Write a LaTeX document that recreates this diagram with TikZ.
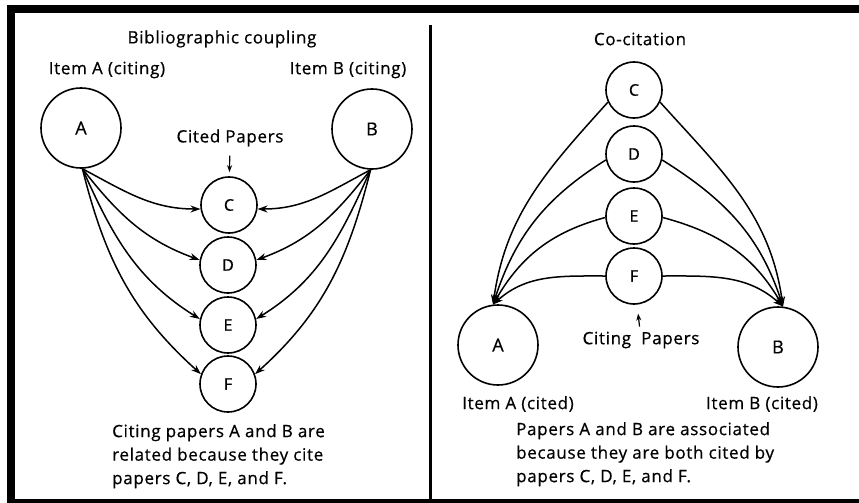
\documentclass[tikz,border=0pt]{standalone}
\usepackage{fontspec}
\setmainfont{Open Sans}[FakeBold=0.6,LetterSpace=4]
\usetikzlibrary{arrows.meta,positioning}

\tikzset{
  paper/.style={draw,circle,line width=1.6pt,minimum size=56pt,inner sep=0pt,font=\fontsize{16}{16}\selectfont},
  item/.style={draw,circle,line width=1.6pt,minimum size=80pt,inner sep=0pt,font=\fontsize{18}{18}\selectfont},
  lbl/.style={inner sep=0pt,font=\fontsize{17}{17}\selectfont},
  note/.style={inner sep=0pt,align=left,font=\fontsize{17}{23.5}\selectfont},
  cite/.style={line width=1.5pt,-{Stealth[length=10pt,width=7pt]}},
  tick/.style={line width=1.2pt,-{Stealth[length=7pt,width=5pt]}}
}

\begin{document}
\begin{tikzpicture}[x=1pt,y=1pt]
\useasboundingbox (0,0) rectangle (859,-503);
% frame
\fill [black] (7,-5) rectangle (859,-13);
\fill [black] (7,-5) rectangle (15,-503);
\fill [black] (7,-499) rectangle (859,-503);
\draw [line width=3pt] (430.5,-25) -- (430.5,-499);

% bibliographic coupling
\node [lbl] (bctitle) at (222,-39) {Bibliographic coupling};
\node [lbl] (itemA) at (107,-70) {Item A (citing)};
\node [lbl] (itemB) at (348,-70) {Item B (citing)};
\node [item] (A) at (81,-128) {A};
\node [item] (B) at (372,-129) {B};
\node [lbl] (cited) at (230,-138) {Cited Papers};
\node [paper] (C) at (229,-205) {C};
\node [paper] (D) at (228,-265) {D};
\node [paper] (E) at (228,-325) {E};
\node [paper] (F) at (228,-384) {F};
\draw [tick,shorten <=9pt,shorten >=4pt] (cited) -- (C);
\draw [cite] (A.-88) to[out=-28,in=180] (C.188);
\draw [cite] (A.-88) to[out=-52,in=160] (D.170);
\draw [cite] (A.-88) to[out=-66,in=148] (E.168);
\draw [cite] (A.-88) to[out=-76,in=138] (F.160);
\draw [cite] (B.-92) to[out=208,in=0] (C.-8);
\draw [cite] (B.-92) to[out=232,in=20] (D.10);
\draw [cite] (B.-92) to[out=246,in=32] (E.12);
\draw [cite] (B.-92) to[out=256,in=42] (F.20);
\node [note,anchor=north west] (bcnote) at (112,-424) {Citing papers A and B are\\related because they cite\\papers C, D, E, and F.};

% co-citation
\node [lbl] (cctitle) at (640,-39) {Co-citation};
\node [paper] (C2) at (634,-90) {C};
\node [paper] (D2) at (634,-154) {D};
\node [paper] (E2) at (634,-216) {E};
\node [paper] (F2) at (634,-276) {F};
\node [item] (A2) at (498,-345) {A};
\node [item] (B2) at (778,-347) {B};
\node [lbl] (citing) at (641,-340) {Citing\ \ Papers};
\draw [tick,shorten <=5pt,shorten >=9pt] (citing) -- (F2);
\draw [cite] (C2.205) to[out=228,in=82] (A2.97);
\draw [cite] (D2.192) to[out=212,in=72] (A2.97);
\draw [cite] (E2.183) to[out=195,in=60] (A2.97);
\draw [cite] (F2.west) to[out=180,in=42] (A2.97);
\draw [cite] (C2.-25) to[out=-48,in=98] (B2.83);
\draw [cite] (D2.-12) to[out=-32,in=108] (B2.83);
\draw [cite] (E2.-3) to[out=-15,in=120] (B2.83);
\draw [cite] (F2.east) to[out=0,in=138] (B2.83);
\node [lbl] (itemA2) at (518,-404) {Item A (cited)};
\node [lbl] (itemB2) at (762,-404) {Item B (cited)};
\node [note,anchor=north west] (ccnote) at (516,-422) {Papers A and B are associated\\because they are both cited by\\papers C, D, E, and F.};
\end{tikzpicture}
\end{document}
